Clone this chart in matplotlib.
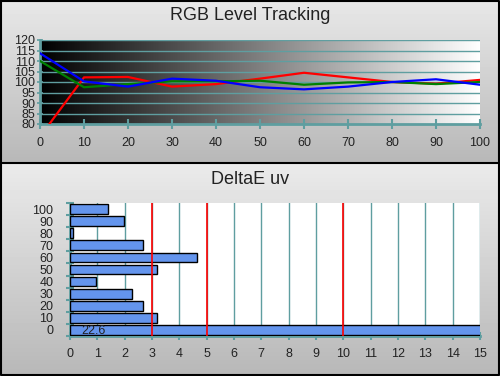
import numpy as np
import matplotlib
matplotlib.use('Agg')
import matplotlib.pyplot as plt
from matplotlib.ticker import FixedLocator

plt.rcParams['font.family'] = ['Liberation Sans', 'DejaVu Sans']

# dados
niveis = [0, 10, 20, 30, 40, 50, 60, 70, 80, 90, 100]
vermelho = [74.0, 102.2, 102.4, 97.8, 99.0, 101.6, 104.4, 102.2, 100.0, 99.2, 101.0]
verde = [110.0, 97.5, 99.0, 100.3, 100.3, 100.6, 98.7, 99.8, 100.0, 99.0, 100.0]
azul = [113.7, 100.3, 97.8, 101.6, 100.6, 97.5, 96.5, 97.8, 100.0, 101.3, 98.7]

delta_niveis = ['0', '10', '20', '30', '40', '50', '60', '70', '80', '90', '100']
delta_uv = [22.6, 3.2, 2.68, 2.28, 0.94, 3.2, 4.63, 2.68, 0.12, 1.99, 1.40]
limites = [3, 5, 10]

teal = '#5f9ea0'
texto = '#222222'

fig = plt.figure(figsize=(5.0, 3.76), dpi=100)

# fundo com degradê nos dois painéis
fundo = fig.add_axes([0, 0, 1, 1], zorder=-10)
h = 376
col = np.zeros(h)
sep = 163
col[:sep] = np.linspace(0.91, 0.72, sep)
col[sep:] = np.linspace(0.92, 0.72, h - sep)
fundo.imshow(np.tile(col[:, None], (1, 10)), cmap='gray', vmin=0, vmax=1,
             aspect='auto', extent=[0, 500, 376, 0])
fundo.plot([0, 500], [sep, sep], color='black', lw=1.5)
fundo.plot([0.5, 499, 499, 0.5, 0.5], [0.5, 0.5, 375, 375, 0.5], color='black', lw=1.5)
fundo.set_xlim(0, 500)
fundo.set_ylim(376, 0)
fundo.axis('off')

fig.text(0.5, 1 - 16 / 376, 'RGB Level Tracking', ha='center', va='center',
         fontsize=13, color=texto)
fig.text(0.5, 1 - 179 / 376, 'DeltaE uv', ha='center', va='center',
         fontsize=13, color=texto)

# --- gráfico de cima ---
ax1 = fig.add_axes([40 / 500, 1 - 124 / 376, 440 / 500, 84 / 376])
grad = np.tile(np.linspace(0, 1, 256), (2, 1))
ax1.imshow(grad, cmap='gray', vmin=0, vmax=1, aspect='auto',
           extent=[0, 100, 80, 120], zorder=0)
for v in range(85, 125, 5):
    ax1.axhline(v, color=teal, lw=1, zorder=1)
ax1.plot(niveis, vermelho, color='#ff0000', lw=1.6, zorder=3)
ax1.plot(niveis, verde, color='#008000', lw=1.6, zorder=3)
ax1.plot(niveis, azul, color='#0000ff', lw=1.6, zorder=4)
ax1.set_xlim(0, 100)
ax1.set_ylim(80, 120)
ax1.set_xticks(niveis)
ax1.set_yticks(range(80, 125, 5))
ax1.tick_params(axis='x', direction='inout', length=7, width=1.5, color=teal,
                labelsize=9, labelcolor=texto, pad=6)
ax1.tick_params(axis='y', direction='inout', length=5, width=1.2, color=teal,
                labelsize=9, labelcolor=texto, pad=1)
ax1.spines['top'].set_visible(False)
ax1.spines['right'].set_visible(False)
ax1.spines['bottom'].set_color(teal)
ax1.spines['bottom'].set_linewidth(2)
ax1.spines['left'].set_color(teal)
ax1.spines['left'].set_linewidth(2)

# --- gráfico de baixo ---
ax2 = fig.add_axes([70 / 500, 1 - 335.7 / 376, 410 / 500, 132.4 / 376])
ax2.set_facecolor('white')
pos = np.arange(len(delta_niveis))
ax2.barh(pos, delta_uv, height=0.82, color='#6495ed', edgecolor='black',
         lw=1, zorder=3)
for x in range(1, 16):
    ax2.axvline(x, color=teal, lw=1, zorder=1)
for x in limites:
    ax2.axvline(x, color='#ff0000', lw=1.2, zorder=4)
ax2.text(0.85, -0.15, '22.6', ha='center', va='center', fontsize=9,
         color=texto, zorder=5)
ax2.set_xlim(0, 15)
ax2.set_ylim(-0.5, 10.5)
ax2.set_xticks(range(0, 16))
ax2.set_yticks(pos)
ax2.set_yticklabels(delta_niveis)
ax2.yaxis.set_minor_locator(FixedLocator(np.arange(-0.5, 11, 1)))
ax2.tick_params(axis='x', direction='inout', length=6, width=1.5, color=teal,
                labelsize=9, labelcolor=texto, pad=6)
ax2.tick_params(axis='y', which='major', length=0, labelsize=9,
                labelcolor=texto, pad=12)
ax2.tick_params(axis='y', which='minor', direction='inout', length=6,
                width=1.5, color=teal)
ax2.spines['top'].set_visible(False)
ax2.spines['right'].set_visible(False)
ax2.spines['bottom'].set_color(teal)
ax2.spines['bottom'].set_linewidth(2)
ax2.spines['left'].set_color(teal)
ax2.spines['left'].set_linewidth(2)

fig.savefig('out.png', dpi=100)
